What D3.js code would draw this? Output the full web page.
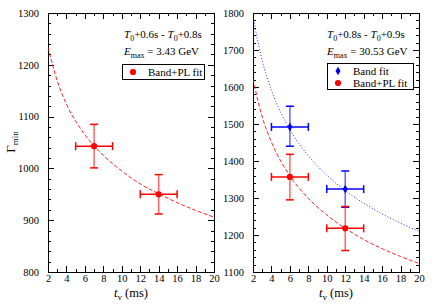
<!DOCTYPE html>
<html><head><meta charset="utf-8">
<script src="https://cdn.jsdelivr.net/npm/d3@7"></script>
<style>
body{margin:0;background:#fff}
svg text{font-family:"Liberation Serif","DejaVu Serif",serif;fill:#000}
</style></head>
<body><svg id="c" width="436" height="305"></svg>
<script>
// ---- data ----
const curveX = [2,3,4,6,8,10,12,14,16,18,20];
const leftFitPL = [1234,1169,1124,1065,1025,995,970,951,934,919,906];
const rightFitBand = [1790,1671,1591,1485,1414,1362,1320,1286,1257,1232,1210];
const rightFitPL = [1621,1519,1451,1360,1299,1254,1218,1188,1163,1142,1123];

const leftPL = [ // x, y, xlo, xhi, ylo, yhi
  {x:7,  y:1043, xlo:5,  xhi:9,  ylo:1001, yhi:1085},
  {x:14, y:950,  xlo:12, xhi:16, ylo:912,  yhi:988}
];
const rightBand = [
  {x:6,  y:1492, xlo:4,  xhi:8,  ylo:1440, yhi:1548},
  {x:12, y:1324, xlo:10, xhi:14, ylo:1275, yhi:1373}
];
const rightPL = [
  {x:6,  y:1357, xlo:4,  xhi:8,  ylo:1295, yhi:1418},
  {x:12, y:1218, xlo:10, xhi:14, ylo:1158, yhi:1277}
];
const xTicks = [2,4,6,8,10,12,14,16,18,20];
const leftYTicks = [800,900,1000,1100,1200,1300];
const rightYTicks = [1100,1200,1300,1400,1500,1600,1700,1800];

const svg = d3.select("#c");
const RED = "#ff0000", BLUE = "#0000ff";

function panel(opt){
  const g = svg.append("g");
  const x = d3.scaleLinear().domain([2,20]).range([opt.x0, opt.x1]);
  const y = d3.scaleLinear().domain(opt.ydom).range([272, 13]);
  const minorX = d3.range(2,21,1);
  const minorY = d3.range(opt.ydom[0], opt.ydom[1]+1, 20);
  const axB = d3.axisBottom(x).tickValues(minorX).tickSizeInner(-3).tickSizeOuter(0).tickFormat("");
  const axB2 = d3.axisBottom(x).tickValues(xTicks).tickSizeInner(-6).tickSizeOuter(0).tickFormat(d3.format("d"));
  const axT = d3.axisTop(x).tickValues(minorX).tickSizeInner(-3).tickSizeOuter(0).tickFormat("");
  const axT2 = d3.axisTop(x).tickValues(xTicks).tickSizeInner(-6).tickSizeOuter(0).tickFormat("");
  const axL = d3.axisLeft(y).tickValues(minorY).tickSizeInner(-3).tickSizeOuter(0).tickFormat("");
  const axL2 = d3.axisLeft(y).tickValues(opt.yticks).tickSizeInner(-6).tickSizeOuter(0).tickPadding(9).tickFormat(d3.format("d"));
  const axR = d3.axisRight(y).tickValues(minorY).tickSizeInner(-3).tickSizeOuter(0).tickFormat("");
  const axR2 = d3.axisRight(y).tickValues(opt.yticks).tickSizeInner(-6).tickSizeOuter(0).tickFormat("");
  [[axB,`translate(0,272)`],[axB2,`translate(0,272)`],[axT,`translate(0,13)`],[axT2,`translate(0,13)`],
   [axL,`translate(${opt.x0},0)`],[axL2,`translate(${opt.x0},0)`],[axR,`translate(${opt.x1},0)`],[axR2,`translate(${opt.x1},0)`]]
   .forEach(([a,t],k)=>{
     const ga = g.append("g").attr("transform",t).call(a);
     ga.select(".domain").remove();
     ga.selectAll("line").attr("stroke","#000").attr("stroke-width",1).attr("shape-rendering","crispEdges");
     ga.selectAll("text").style("font-family","Liberation Serif, serif").style("font-size","10.5px").attr("fill","#000");
     if (k===1) ga.selectAll("text").attr("y",3);
   });
  g.append("rect").attr("x",opt.x0+0.5).attr("y",13.5).attr("width",opt.x1-opt.x0).attr("height",259)
    .attr("fill","none").attr("stroke","#000").attr("stroke-width",1);

  const clip = "clip"+opt.x0;
  svg.append("clipPath").attr("id",clip).append("rect").attr("x",opt.x0).attr("y",13).attr("width",opt.x1-opt.x0).attr("height",259);
  opt.curves.forEach(c=>{
    const line = d3.line().x((d,i)=>x(curveX[i])).y(d=>y(d)).curve(d3.curveMonotoneX);
    g.append("path").attr("d",line(c.vals)).attr("fill","none").attr("stroke",c.color)
      .attr("stroke-width",1).attr("stroke-dasharray",c.dash).attr("clip-path",`url(#${clip})`).attr("opacity",0.85);
  });

  opt.series.forEach(s=>{
    s.data.forEach(d=>{
      const cap = 4;
      g.append("line").attr("x1",x(d.xlo)).attr("x2",x(d.xhi)).attr("y1",y(d.y)).attr("y2",y(d.y)).attr("stroke",s.color).attr("stroke-width",1.5);
      g.append("line").attr("x1",x(d.x)).attr("x2",x(d.x)).attr("y1",y(d.ylo)).attr("y2",y(d.yhi)).attr("stroke",s.color).attr("stroke-width",1.5).attr("opacity",0.6);
      [d.xlo,d.xhi].forEach(v=>g.append("line").attr("x1",x(v)).attr("x2",x(v)).attr("y1",y(d.y)-cap).attr("y2",y(d.y)+cap).attr("stroke",s.color).attr("stroke-width",1.5));
      [d.ylo,d.yhi].forEach(v=>g.append("line").attr("x1",x(d.x)-cap).attr("x2",x(d.x)+cap).attr("y1",y(v)).attr("y2",y(v)).attr("stroke",s.color).attr("stroke-width",1.5));
      g.append("path").attr("transform",`translate(${x(d.x)},${y(d.y)})`)
        .attr("d",d3.symbol().type(s.sym).size(s.size)()).attr("fill",s.color);
    });
  });

  const tx = opt.x0 + opt.textDx;
  const t1 = g.append("text").attr("x",tx).attr("y",38).style("font-size","11px");
  t1.append("tspan").style("font-style","italic").text("T");
  t1.append("tspan").attr("dy",3).style("font-size","8px").text("0");
  t1.append("tspan").attr("dy",-3).text(opt.t1a + " - ");
  t1.append("tspan").style("font-style","italic").text("T");
  t1.append("tspan").attr("dy",3).style("font-size","8px").text("0");
  t1.append("tspan").attr("dy",-3).text(opt.t1b);
  const t2 = g.append("text").attr("x",tx).attr("y",55).style("font-size","11px");
  t2.append("tspan").style("font-style","italic").text("E");
  t2.append("tspan").attr("dy",3).style("font-size","8px").text("max");
  t2.append("tspan").attr("dy",-3).text(" = " + opt.emax);

  const lg = g.append("g");
  lg.append("rect").attr("x",opt.leg[0]+0.5).attr("y",opt.leg[1]+0.5).attr("width",opt.leg[2]).attr("height",opt.leg[3])
    .attr("fill","#fff").attr("stroke","#000");
  opt.series.forEach((s,i)=>{
    const cy = opt.leg[1] + 8 + i*12;
    lg.append("path").attr("transform",`translate(${opt.leg[0]+11},${cy})`)
      .attr("d",d3.symbol().type(s.sym).size(s.size)()).attr("fill",s.color);
    lg.append("text").attr("x",opt.leg[0]+26).attr("y",cy+4).style("font-size","11px").text(s.name);
  });

  const xl = g.append("text").attr("x",(opt.x0+opt.x1)/2).attr("y",297).attr("text-anchor","middle").style("font-size","12.5px");
  xl.append("tspan").style("font-style","italic").text("t");
  xl.append("tspan").attr("dy",3).style("font-size","9px").text("v");
  xl.append("tspan").attr("dy",-3).text(" (ms)");
  return {x,y};
}

panel({x0:48, x1:214, ydom:[800,1300], yticks:leftYTicks,
  curves:[{vals:leftFitPL,color:RED,dash:"4,2"}],
  series:[{name:"Band+PL fit",data:leftPL,color:RED,sym:d3.symbolCircle,size:30}],
  textDx:76, t1a:"+0.6s", t1b:"+0.8s", emax:"3.43 GeV", leg:[122,64,82,15]});
panel({x0:253, x1:419, ydom:[1100,1800], yticks:rightYTicks,
  curves:[{vals:rightFitPL,color:RED,dash:"4,2"},{vals:rightFitBand,color:BLUE,dash:"1,2"}],
  series:[{name:"Band fit",data:rightBand,color:BLUE,sym:d3.symbolDiamond,size:22},
          {name:"Band+PL fit",data:rightPL,color:RED,sym:d3.symbolCircle,size:30}],
  textDx:74, t1a:"+0.8s", t1b:"+0.9s", emax:"30.53 GeV", leg:[327,63,86,26]});

const yl = svg.append("text").attr("transform","translate(15,142) rotate(-90)").attr("text-anchor","middle").style("font-size","13px");
yl.append("tspan").text("Γ");
yl.append("tspan").attr("dy",3).style("font-size","9px").text("min");
</script></body></html>
